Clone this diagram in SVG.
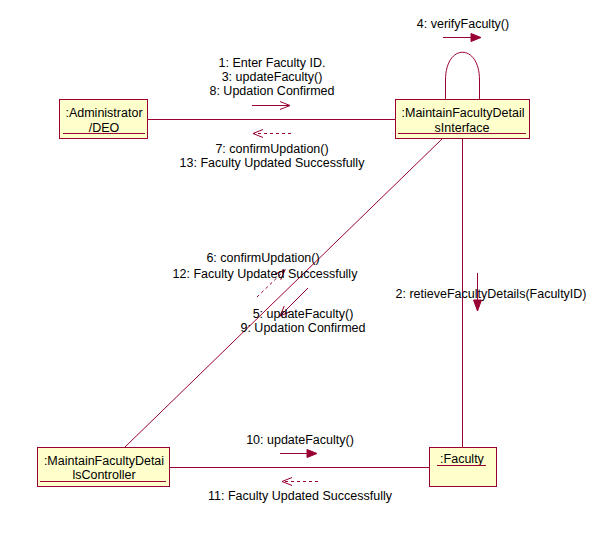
<svg xmlns="http://www.w3.org/2000/svg" width="598" height="557" viewBox="0 0 598 557">
  <style>
    .obj { fill: #FFFFCC; stroke: #990033; stroke-width: 1; }
    .ul { stroke: #990033; stroke-width: 1; }
    .link { fill: none; stroke: #990033; stroke-width: 1; }
    .msg { fill: none; stroke: #990033; stroke-width: 1; }
    .ret { fill: none; stroke: #990033; stroke-width: 1; stroke-dasharray: 3 3; }
    .head { fill: #990033; stroke: #990033; stroke-width: 1; }
    text { font-family: "Liberation Sans", Arial, sans-serif; font-size: 12.5px; fill: #000000; text-anchor: middle; }
  </style>
  <defs>
    <marker id="open" markerUnits="userSpaceOnUse" markerWidth="14" markerHeight="12" refX="11" refY="5" orient="auto" viewBox="0 0 14 10">
      <path d="M1,1 L11,5 L1,9" fill="none" stroke="#990033" stroke-width="1"/>
    </marker>
  </defs>

  <!-- links between objects -->
  <g id="connectors">
    <line class="link" x1="147" y1="119.5" x2="395" y2="119.5"/>
    <line class="link" x1="462.5" y1="138" x2="462.5" y2="447"/>
    <line class="link" x1="442" y1="139" x2="125" y2="447"/>
    <line class="link" x1="169" y1="467.5" x2="429" y2="467.5"/>
    <path class="link" d="M445.5,99 L445.5,80 C445.5,43 479.5,43 479.5,80 L479.5,99"/>

    <!-- messages: Administrator <-> Interface -->
    <line class="msg" x1="252" y1="105.5" x2="290" y2="105.5" marker-end="url(#open)"/>
    <line class="ret" x1="291" y1="133.5" x2="253" y2="133.5" marker-end="url(#open)"/>

    <!-- self message -->
    <line class="msg" x1="443" y1="37.5" x2="471" y2="37.5"/>
    <polygon class="head" points="471,33.5 481,37.5 471,41.5"/>

    <!-- Interface -> Faculty -->
    <line class="msg" x1="477.5" y1="273" x2="477.5" y2="300"/>
    <polygon class="head" points="473.5,300 477.5,311 481.5,300"/>

    <!-- Interface <-> Controller -->
    <line class="msg" x1="308" y1="288" x2="280" y2="316" marker-end="url(#open)"/>
    <line class="ret" x1="257" y1="297" x2="285" y2="270" marker-end="url(#open)"/>

    <!-- Controller <-> Faculty -->
    <line class="msg" x1="280" y1="453.5" x2="307" y2="453.5"/>
    <polygon class="head" points="307,449.5 317,453.5 307,457.5"/>
    <line class="ret" x1="318" y1="481.5" x2="282" y2="481.5" marker-end="url(#open)"/>
  </g>

  <!-- message labels -->
  <g id="labels">
    <text x="272" y="67">1: Enter Faculty ID.</text>
    <text x="272" y="81">3: updateFaculty()</text>
    <text x="272" y="95">8: Updation Confirmed</text>
    <text x="272" y="153">7: confirmUpdation()</text>
    <text x="272" y="167">13: Faculty Updated Successfully</text>
    <text x="463" y="28">4: verifyFaculty()</text>
    <text x="491" y="298">2: retieveFacultyDetails(FacultyID)</text>
    <text x="263" y="262">6: confirmUpdation()</text>
    <text x="265" y="278">12: Faculty Updated Successfully</text>
    <text x="303" y="318">5: updateFaculty()</text>
    <text x="303" y="332">9: Updation Confirmed</text>
    <text x="300" y="444">10: updateFaculty()</text>
    <text x="300" y="500">11: Faculty Updated Successfully</text>
  </g>

  <g id="administrator">
    <rect class="obj" x="59.5" y="99.5" width="88" height="39"/>
    <text x="104" y="117">:Administrator</text>
    <text x="104" y="132">/DEO</text>
    <line class="ul" x1="63" y1="133.5" x2="145" y2="133.5"/>
  </g>

  <g id="interface">
    <rect class="obj" x="395.5" y="99.5" width="134" height="39"/>
    <text x="463" y="117">:MaintainFacultyDetail</text>
    <text x="462" y="132">sInterface</text>
    <line class="ul" x1="398" y1="133.5" x2="526" y2="133.5"/>
  </g>

  <g id="controller">
    <rect class="obj" x="37.5" y="447.5" width="132" height="39"/>
    <text x="104" y="465">:MaintainFacultyDetai</text>
    <text x="104" y="479">lsController</text>
    <line class="ul" x1="40" y1="481.5" x2="166" y2="481.5"/>
  </g>

  <g id="faculty">
    <rect class="obj" x="429.5" y="447.5" width="67" height="39"/>
    <text x="462" y="463">:Faculty</text>
    <line class="ul" x1="437" y1="465.5" x2="486" y2="465.5"/>
  </g>
</svg>
